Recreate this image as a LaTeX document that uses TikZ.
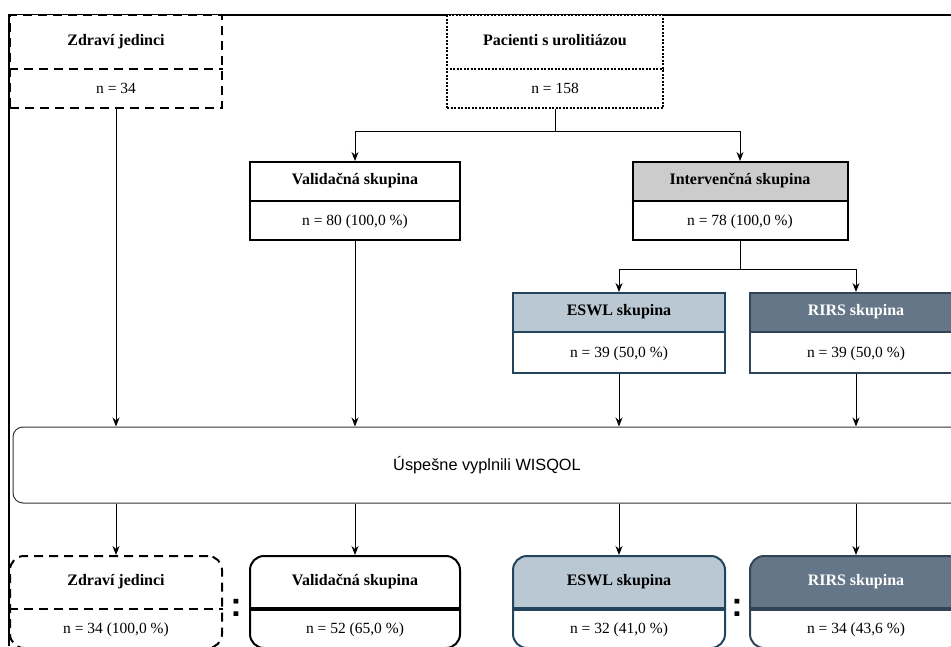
\documentclass[tikz,border=0pt]{standalone}
\usepackage{fontspec}
\setmainfont{Liberation Serif}
\setsansfont{Liberation Sans}
\usetikzlibrary{arrows.meta, positioning, calc}
\usepackage{xcolor}
\definecolor{intfill}{HTML}{CCCCCC}
\definecolor{eswlfill}{HTML}{BAC8D3}
\definecolor{eswlline}{HTML}{23445D}
\definecolor{rirsfill}{HTML}{647687}
\definecolor{rirsline}{HTML}{314354}

\begin{document}
\begin{tikzpicture}[
        x=1pt, y=1pt,
        group/.style n args={3}{rectangle, draw, line width=2pt, inner sep=0pt, minimum width=212pt, minimum height=#1pt+#2pt,
            path picture={
                \fill[#3, sharp corners] (path picture bounding box.north west) rectangle ([yshift=#2pt]path picture bounding box.south east);
            }},
        healthy/.style={dash pattern=on 9pt off 6pt},
        cohort/.style={dash pattern=on 2pt off 1.5pt},
        final/.style={rounded corners=14pt},
        divider/.style={line width=2pt},
        ttl/.style={font=\fontsize{16}{18}\selectfont\bfseries, text height=11pt, text depth=3.5pt, inner sep=0pt, outer sep=0pt},
        cnt/.style={font=\fontsize{15.5}{18}\selectfont, text height=11pt, text depth=3.5pt, inner sep=0pt, outer sep=0pt},
        wis/.style={rectangle, draw=black!80, line width=1pt, rounded corners=10pt, minimum width=948pt, minimum height=76pt, font=\sffamily\fontsize{16.3}{18}\selectfont},
        ratio/.style={font=\sffamily\bfseries\fontsize{34}{34}\selectfont, inner sep=0pt, anchor=base},
        arrow/.style={line width=1pt, -{Stealth[length=9pt, width=7pt]}}
    ]
        \useasboundingbox (0,0) rectangle (951,-646);
        \clip (0,0) rectangle (951,-646);
        \draw [line width=1.5pt] (9,-646) -- (9,-15) -- (951,-15);

        % input groups
        \node [group={55}{38}{white}, healthy] (zdr1) at (116,-61.5) {};
        \node [ttl, below=0pt of zdr1.north, minimum height=55pt] (zdr1t) {Zdraví jedinci};
        \node [cnt, above=0pt of zdr1.south, minimum height=38pt] (zdr1c) {n = 34};

        \node [group={55}{38}{white}, cohort, minimum width=216pt] (pac) at (555,-61.5) {};
        \node [ttl, below=0pt of pac.north, minimum height=55pt] (pact) {Pacienti s urolitiázou};
        \node [cnt, above=0pt of pac.south, minimum height=38pt] (pacc) {n = 158};

        \node [group={40}{38}{white}, minimum width=210pt] (val) at (355,-201) {};
        \node [ttl, below=0pt of val.north, minimum height=40pt] (valt) {Validačná skupina};
        \node [cnt, above=0pt of val.south, minimum height=38pt] (valc) {n = 80 (100,0 \%)};

        \node [group={40}{38}{intfill}, minimum width=215pt] (int) at (740,-201) {};
        \node [ttl, below=0pt of int.north, minimum height=40pt] (intt) {Intervenčná skupina};
        \node [cnt, above=0pt of int.south, minimum height=38pt] (intc) {n = 78 (100,0 \%)};

        \node [group={40}{40}{eswlfill}, draw=eswlline] (eswl) at (619,-333) {};
        \node [ttl, below=0pt of eswl.north, minimum height=40pt] (eswlt) {ESWL skupina};
        \node [cnt, above=0pt of eswl.south, minimum height=40pt] (eswlc) {n = 39 (50,0 \%)};

        \node [group={40}{40}{rirsfill}, draw=rirsline] (rirs) at (856,-333) {};
        \node [ttl, text=white, below=0pt of rirs.north, minimum height=40pt] (rirst) {RIRS skupina};
        \node [cnt, above=0pt of rirs.south, minimum height=40pt] (rirsc) {n = 39 (50,0 \%)};

        % questionnaire
        \node [wis] (wis) at (487,-465) {Úspešne vyplnili WISQOL};

        % results
        \node [group={54}{38}{white}, healthy, final] (zdr2) at (116,-602) {};
        \node [ttl, below=0pt of zdr2.north, minimum height=54pt] (zdr2t) {Zdraví jedinci};
        \node [cnt, above=0pt of zdr2.south, minimum height=38pt] (zdr2c) {n = 34 (100,0 \%)};

        \node [group={54}{38}{white}, final, minimum width=210pt] (val2) at (355,-602) {};
        \node [ttl, below=0pt of val2.north, minimum height=54pt] (val2t) {Validačná skupina};
        \node [cnt, above=0pt of val2.south, minimum height=38pt] (val2c) {n = 52 (65,0 \%)};

        \node [group={54}{38}{eswlfill}, draw=eswlline, final] (eswl2) at (619,-602) {};
        \node [ttl, below=0pt of eswl2.north, minimum height=54pt] (eswl2t) {ESWL skupina};
        \node [cnt, above=0pt of eswl2.south, minimum height=38pt] (eswl2c) {n = 32 (41,0 \%)};

        \node [group={54}{38}{rirsfill}, draw=rirsline, final] (rirs2) at (856,-602) {};
        \node [ttl, text=white, below=0pt of rirs2.north, minimum height=54pt] (rirs2t) {RIRS skupina};
        \node [cnt, above=0pt of rirs2.south, minimum height=38pt] (rirs2c) {n = 34 (43,6 \%)};

        \node [ratio] (colA) at (236,-616) {:};
        \node [ratio] (colB) at (737,-616) {:};

        % dividers between title and count
        \foreach \g/\s in {zdr1/healthy, pac/cohort, val/black, int/black, eswl/eswlline, rirs/rirsline}
            \draw [divider, \s] (\g.west |- \g t.south) -- (\g.east |- \g t.south);
        \draw [divider, healthy] (zdr2.west |- zdr2t.south) -- (zdr2.east |- zdr2t.south);
        \foreach \g/\s in {val2/black, eswl2/eswlline, rirs2/rirsline}
            \draw [line width=4pt, \s] (\g.west |- \g t.south) -- (\g.east |- \g t.south);

        \draw [arrow] (pac.south) -- ++(0,-22) -| (val.north);
        \draw [arrow] (pac.south) -- ++(0,-22) -| (int.north);
        \draw [arrow] (int.south) -- ++(0,-28) -| (eswl.north);
        \draw [arrow] (int.south) -- ++(0,-28) -| (rirs.north);

        \draw [arrow] (zdr1.south) -- (zdr1.south |- wis.north);
        \draw [arrow] (val.south) -- (val.south |- wis.north);
        \draw [arrow] (eswl.south) -- (eswl.south |- wis.north);
        \draw [arrow] (rirs.south) -- (rirs.south |- wis.north);

        \foreach \g in {zdr2, val2, eswl2, rirs2}
            \draw [arrow] (wis.south -| \g.north) -- (\g.north);

    \end{tikzpicture}
\end{document}
